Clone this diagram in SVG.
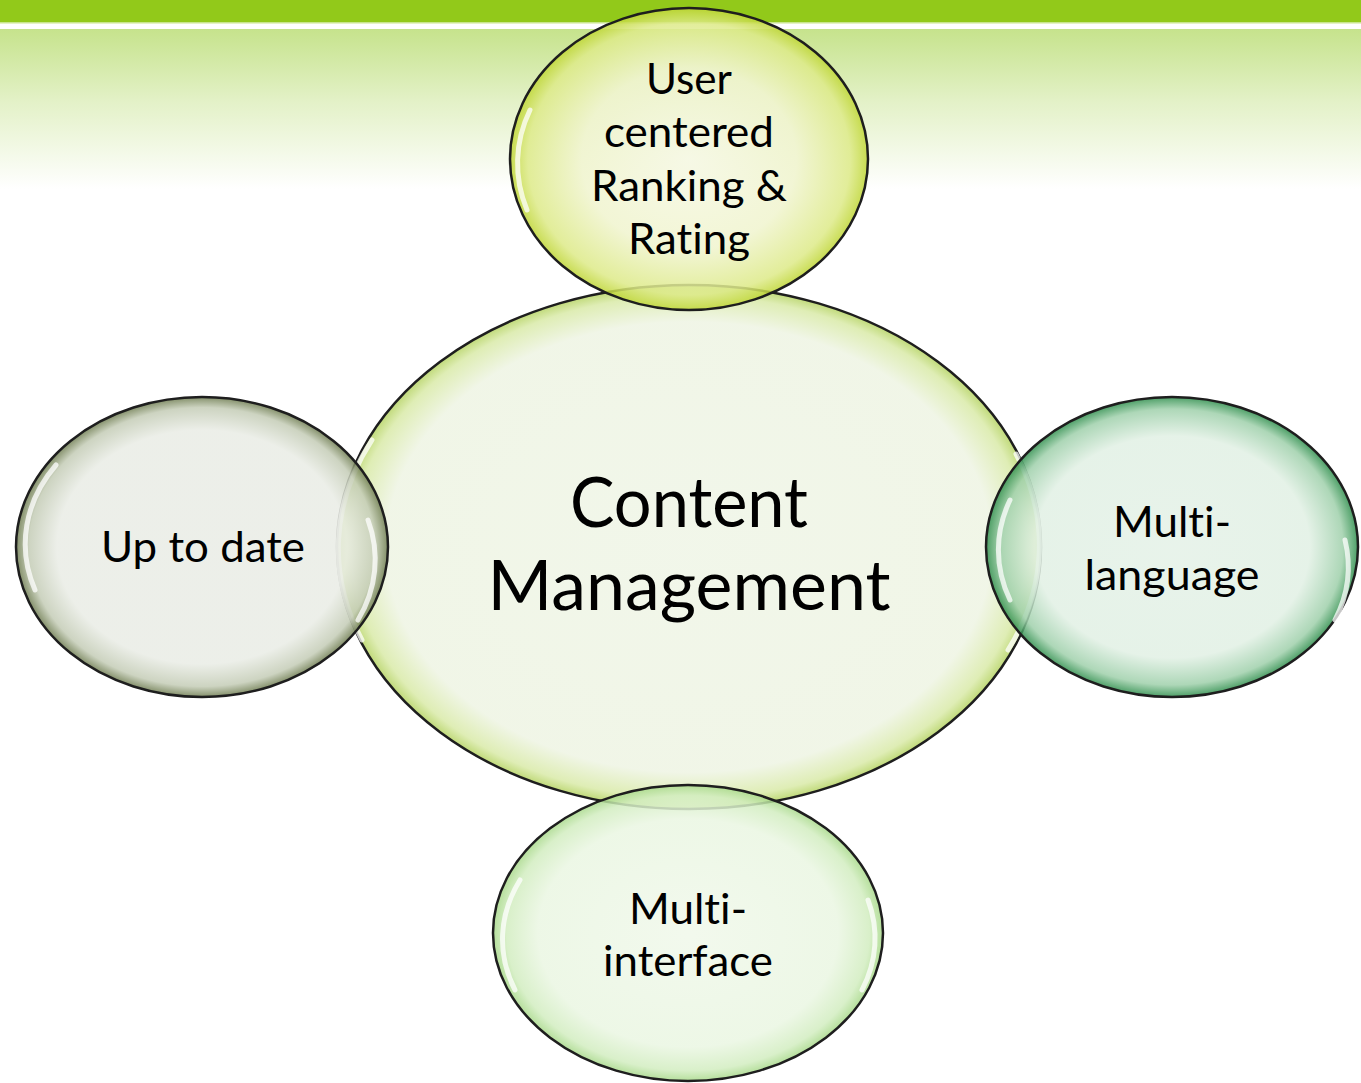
<svg xmlns="http://www.w3.org/2000/svg" width="1361" height="1083" viewBox="0 0 1361 1083">
<defs>
<linearGradient id="bg" x1="0" y1="0" x2="0" y2="1">
<stop offset="0" stop-color="#C6E38C"/>
<stop offset="0.45" stop-color="#E3F1C7"/>
<stop offset="1" stop-color="#FFFFFF"/>
</linearGradient>
<radialGradient id="gCenter" cx="0.5" cy="0.5" r="0.5">
<stop offset="0" stop-color="#EFF5E6"/>
<stop offset="0.86" stop-color="#EEF4E3"/>
<stop offset="0.96" stop-color="#D9EAA8"/>
<stop offset="1" stop-color="#B5D362"/>
</radialGradient>
<radialGradient id="gTop" cx="0.5" cy="0.5" r="0.5">
<stop offset="0" stop-color="#F6F8E4"/>
<stop offset="0.6" stop-color="#F0F4CE"/>
<stop offset="0.9" stop-color="#DDEA88"/>
<stop offset="1" stop-color="#BFD635"/>
</radialGradient>
<radialGradient id="gLeft" cx="0.5" cy="0.5" r="0.5">
<stop offset="0" stop-color="#E9ECE5"/>
<stop offset="0.78" stop-color="#E9ECE5"/>
<stop offset="0.93" stop-color="#C4CCB6"/>
<stop offset="1" stop-color="#6E7C50"/>
</radialGradient>
<radialGradient id="gRight" cx="0.5" cy="0.5" r="0.5">
<stop offset="0" stop-color="#E4F1E7"/>
<stop offset="0.74" stop-color="#E1F0E4"/>
<stop offset="0.92" stop-color="#9FD0AB"/>
<stop offset="1" stop-color="#2E8E4C"/>
</radialGradient>
<radialGradient id="gBottom" cx="0.5" cy="0.5" r="0.5">
<stop offset="0" stop-color="#F0F8EA"/>
<stop offset="0.77" stop-color="#EAF6E2"/>
<stop offset="0.93" stop-color="#D2EDC0"/>
<stop offset="1" stop-color="#A8D98A"/>
</radialGradient>
</defs>
<style>
.node ellipse.body { stroke: #1E1E1E; stroke-width: 2.5; fill-opacity: 0.85; }
.hl { fill: none; stroke: #FFFFFF; stroke-opacity: 0.75; stroke-width: 5; stroke-linecap: round; }
text { font-family: Lato, "Open Sans", "Liberation Sans", sans-serif; fill: #000000; text-anchor: middle; font-variant-ligatures: none; }
.big { font-size: 70px; }
.sm { font-size: 42px; }
</style>
<rect x="0" y="0" width="1361" height="1083" fill="#FFFFFF"/>
<rect x="0" y="0" width="1361" height="22" fill="#92C91A"/>
<rect x="0" y="22" width="1361" height="1.5" fill="#C9E58E"/>
<rect x="0" y="29" width="1361" height="160" fill="url(#bg)"/>
<g id="connectors"></g>
<g id="node-center" class="node">
<ellipse class="body" cx="689" cy="547" rx="352" ry="262" fill="url(#gCenter)"/>
<path class="hl" d="M362 640 A340 250 0 0 1 372 440"/>
<path class="hl" d="M1016 454 A340 250 0 0 1 1008 650"/>
<text class="big" x="689" y="527" textLength="238" lengthAdjust="spacingAndGlyphs">Content</text>
<text class="big" x="689" y="610" textLength="403" lengthAdjust="spacingAndGlyphs">Management</text>
</g>
<g id="node-top" class="node">
<ellipse class="body" cx="689" cy="159" rx="179" ry="151" fill="url(#gTop)"/>
<path class="hl" d="M527 210 A170 142 0 0 1 530 110"/>
<text class="sm" x="689" y="94" textLength="86" lengthAdjust="spacingAndGlyphs">User</text>
<text class="sm" x="689" y="147" textLength="170" lengthAdjust="spacingAndGlyphs">centered</text>
<text class="sm" x="689" y="201" textLength="196" lengthAdjust="spacingAndGlyphs">Ranking &amp;</text>
<text class="sm" x="689" y="254" textLength="122" lengthAdjust="spacingAndGlyphs">Rating</text>
</g>
<g id="node-left" class="node">
<ellipse class="body" cx="202" cy="547" rx="186" ry="150" fill="url(#gLeft)"/>
<path class="hl" d="M35 590 A176 140 0 0 1 56 465"/>
<path class="hl" d="M358 620 A176 140 0 0 0 368 520"/>
<text class="sm" x="203" y="562" textLength="204" lengthAdjust="spacingAndGlyphs">Up to date</text>
</g>
<g id="node-right" class="node">
<ellipse class="body" cx="1172" cy="547" rx="186" ry="150" fill="url(#gRight)"/>
<path class="hl" d="M1010 600 A176 140 0 0 1 1010 500"/>
<path class="hl" d="M1335 620 A176 140 0 0 0 1345 540"/>
<text class="sm" x="1172" y="537" textLength="118" lengthAdjust="spacingAndGlyphs">Multi-</text>
<text class="sm" x="1172" y="590" textLength="175" lengthAdjust="spacingAndGlyphs">language</text>
</g>
<g id="node-bottom" class="node">
<ellipse class="body" cx="688" cy="933" rx="195" ry="148" fill="url(#gBottom)"/>
<path class="hl" d="M515 990 A185 140 0 0 1 520 880"/>
<path class="hl" d="M862 990 A185 140 0 0 0 868 900"/>
<text class="sm" x="688" y="924" textLength="118" lengthAdjust="spacingAndGlyphs">Multi-</text>
<text class="sm" x="688" y="976" textLength="170" lengthAdjust="spacingAndGlyphs">interface</text>
</g>
</svg>
